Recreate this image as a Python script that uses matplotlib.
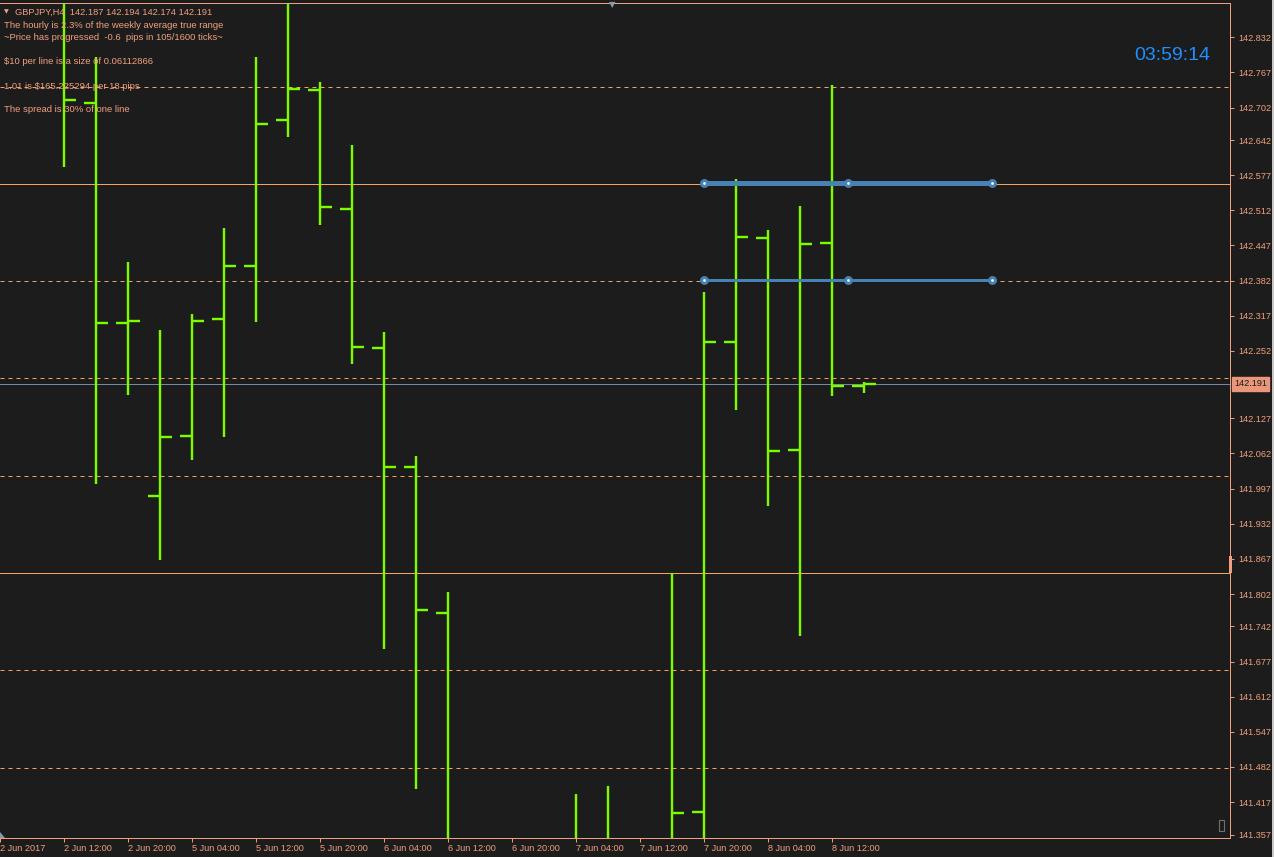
import matplotlib
matplotlib.use("Agg")
import matplotlib.pyplot as plt
import matplotlib.transforms as mtransforms
from matplotlib.patches import Rectangle, Polygon

# ---------------- data ----------------
bar_idx = [2, 3, 4, 5, 6, 7, 8, 9, 10, 11, 12, 13, 14, 18, 19, 21, 22, 23, 24, 25, 26, 27]
opens  = [142.930, 142.710, 142.303, 141.984, 142.094, 142.310, 142.408, 142.679, 142.735, 142.515,
          142.257, 142.037, 141.767, 141.300, 141.300, 141.300, 141.399, 142.268, 142.461, 142.069,
          142.452, 142.187]
highs  = [142.960, 142.796, 142.417, 142.291, 142.321, 142.480, 142.796, 142.920, 142.750, 142.632,
          142.286, 142.057, 141.805, 141.432, 141.447, 141.840, 142.360, 142.569, 142.475, 142.520,
          142.744, 142.194]
lows   = [142.592, 142.005, 142.171, 141.865, 142.050, 142.092, 142.306, 142.647, 142.485, 142.227,
          141.700, 141.442, 141.200, 141.200, 141.200, 141.250, 141.250, 142.142, 141.964, 141.724,
          142.169, 142.174]
closes = [142.716, 142.303, 142.308, 142.093, 142.308, 142.408, 142.671, 142.737, 142.518, 142.259,
          142.037, 141.772, 141.300, 141.320, 141.320, 141.397, 142.268, 142.463, 142.067, 142.450,
          142.187, 142.191]

time_tick_idx = [0, 2, 4, 6, 8, 10, 12, 14, 16, 18, 20, 22, 24, 26]
time_labels = ["2 Jun 2017", "2 Jun 12:00", "2 Jun 20:00", "5 Jun 04:00", "5 Jun 12:00",
               "5 Jun 20:00", "6 Jun 04:00", "6 Jun 12:00", "6 Jun 20:00", "7 Jun 04:00",
               "7 Jun 12:00", "7 Jun 20:00", "8 Jun 04:00", "8 Jun 12:00"]

price_ticks = [142.832, 142.767, 142.702, 142.642, 142.577, 142.512, 142.447, 142.382, 142.317,
               142.252, 142.127, 142.062, 141.997, 141.932, 141.867, 141.802, 141.742, 141.677,
               141.612, 141.547, 141.482, 141.417, 141.357]

level_values = [142.740, 142.561, 142.382, 142.201, 142.021, 141.841, 141.661, 141.481]
level_solid  = [False, True, False, False, False, True, False, False]

current_price = 142.191

blue_levels = [142.562, 142.383]
blue_widths_px = [5, 3]
blue_x = [22, 26.5, 31]

header = "GBPJPY,H4  142.187 142.194 142.174 142.191"
info_lines = [
    ("The hourly is 2.3% of the weekly average true range", 24),
    ("~Price has progressed  -0.6  pips in 105/1600 ticks~", 36),
    ("$10 per line is a size of 0.06112866", 60),
    ("1.01 is $165.225294 per 18 pips", 85),
    ("The spread is 30% of one line", 108),
]
clock_text = "03:59:14"

# ---------------- style ----------------
W, H = 1274, 857
BG = "#1c1c1c"
SALMON = "#f0a07e"
LEVEL = "#f4a460"
GREEN = "#7cfc00"
BLUE = "#4682b4"
PX = 72.0 / 100.0  # points per pixel

fig = plt.figure(figsize=(W / 100, H / 100), dpi=100, facecolor=BG)
ax = fig.add_axes([0, 19 / H, 1230 / W, 835 / H])
ax.set_facecolor(BG)

ax.set_xlim(0, 1230 / 32)
ax.set_ylim(141.3506, 142.8955)

# levels
for v, solid in zip(level_values, level_solid):
    if solid:
        ax.axhline(v, color=LEVEL, lw=1 * PX, zorder=1)
    else:
        ax.axhline(v, color=LEVEL, lw=1 * PX, ls=(0, (4, 4)), zorder=1)
ax.axhline(current_price, color="#778899", lw=1 * PX, zorder=1)

# OHLC bars
tick_len = 0.38
BW = 2.4 * PX
ax.vlines(bar_idx, lows, highs, color=GREEN, lw=BW, zorder=3)
ax.hlines(opens, [x - tick_len for x in bar_idx], bar_idx, color=GREEN, lw=BW, zorder=3)
ax.hlines(closes, bar_idx, [x + tick_len for x in bar_idx], color=GREEN, lw=BW, zorder=3)

# blue horizontal objects
for lvl, wpx in zip(blue_levels, blue_widths_px):
    ax.plot([blue_x[0], blue_x[-1]], [lvl, lvl], color=BLUE, lw=wpx * PX,
            solid_capstyle="butt", zorder=4)
    ax.plot(blue_x, [lvl] * len(blue_x), ls="none", marker="o", ms=7.5 * PX,
            mfc=BLUE, mec=BLUE, zorder=5)
    ax.plot(blue_x, [lvl] * len(blue_x), ls="none", marker="s", ms=1.2 * PX,
            mfc="white", mec="white", zorder=6)

# spines
ax.spines["left"].set_visible(False)
for s in ["top", "right", "bottom"]:
    ax.spines[s].set_color(SALMON)
    ax.spines[s].set_linewidth(1 * PX)

ax.yaxis.tick_right()
ax.set_yticks(price_ticks)
ax.set_yticklabels([f"{p:.3f}" for p in price_ticks])
ax.tick_params(axis="y", which="both", direction="out", length=3, width=0.7,
               colors=SALMON, labelsize=6.6, pad=3, labelfontfamily="Liberation Sans")
ax.set_xticks(time_tick_idx)
ax.set_xticklabels(time_labels, ha="left")
ax.tick_params(axis="x", which="both", direction="out", length=3, width=0.7,
               colors=SALMON, labelsize=6.6, pad=1, labelfontfamily="Liberation Sans")
for lab in ax.get_xticklabels():
    lab.set_horizontalalignment("left")

# current price tag
trans = mtransforms.blended_transform_factory(ax.transAxes, ax.transData)
ax.text(1.0 + 4 / 1230, current_price, f"{current_price:.3f}", transform=trans,
        ha="left", va="center", fontsize=6.6, family="Liberation Sans", color="#1c1c1c",
        bbox=dict(boxstyle="square,pad=0.25", fc="#e9967a", ec="#e9967a"), clip_on=False, zorder=10)


def ftext(x, y, s, **kw):
    fig.text(x / W, 1 - y / H, s, parse_math=False, **kw)


# header / info text
ftext(4, 12, "\u25bc", fontsize=4.5, color=SALMON, va="center", family="DejaVu Sans")
ftext(15, 12, header, fontsize=6.7, color=SALMON, va="center", family="Liberation Sans")
for s, y in info_lines:
    ftext(4, y + 1.5, s, fontsize=6.8, color=SALMON, va="center", family="Liberation Sans")

# clock
ftext(1172, 55, clock_text, fontsize=14, color="#1e90ff", va="center", ha="center",
      family="Liberation Sans")

# small decorations
ftext(612, 5, "\u25bc", fontsize=6, color="#8898a8", va="center", ha="center", family="DejaVu Sans")
fig.patches.append(Rectangle((1219 / W, 1 - 831 / H), 5 / W, 11 / H, transform=fig.transFigure,
                             fill=False, ec="#707070", lw=0.8))
fig.patches.append(Rectangle((1229 / W, 1 - 573 / H), 3 / W, 17 / H, transform=fig.transFigure,
                             fc=SALMON, ec="none"))
fig.patches.append(Polygon([(0, 1 - 838 / H), (0, 1 - 832 / H), (5 / W, 1 - 838 / H)],
                           closed=True, transform=fig.transFigure, fc="#8898a8", ec="none"))
fig.patches.append(Rectangle((1272 / W, 0), 2 / W, 1, transform=fig.transFigure,
                             fc="#c8c8c8", ec="none"))

fig.savefig("out.png", dpi=100, facecolor=BG)
